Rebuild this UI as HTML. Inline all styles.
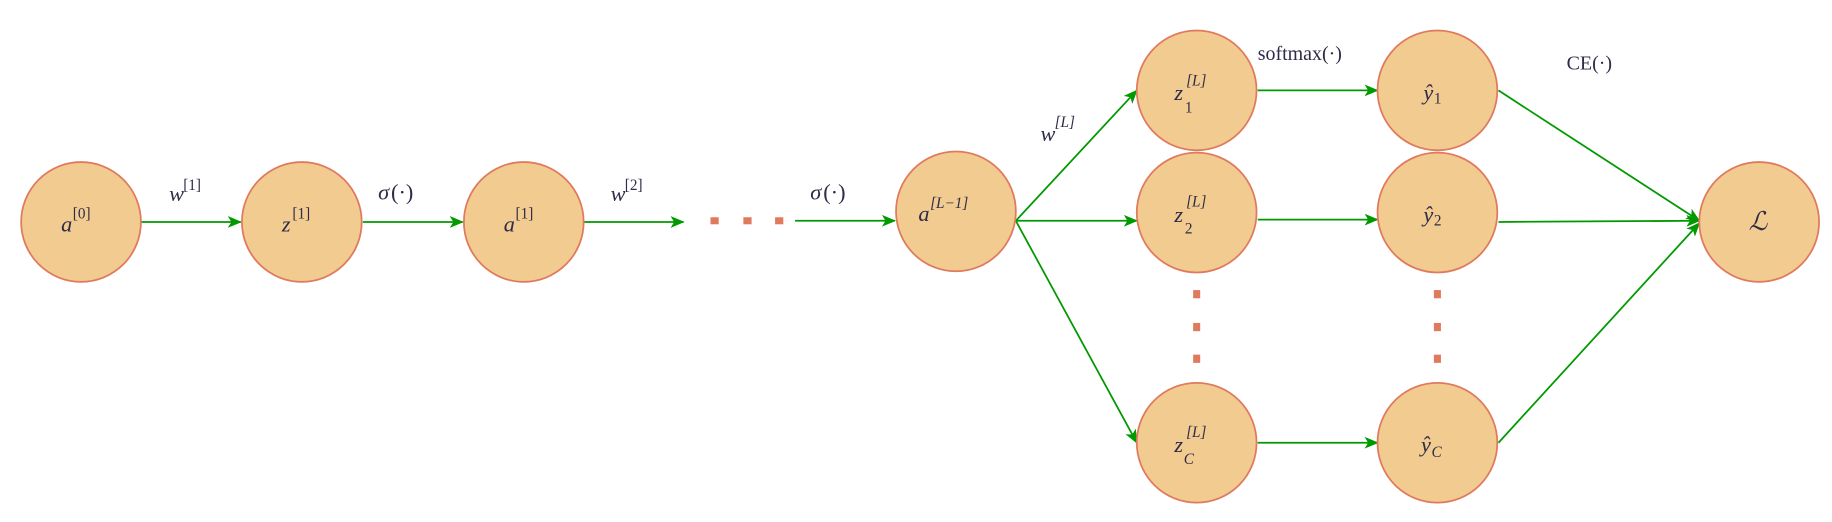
<!DOCTYPE html>
<html><head><meta charset="utf-8"><style>
html,body{margin:0;padding:0;background:#fff;}
svg{display:block}
text{font-family:"Liberation Serif",serif;fill:#2e2c48;font-style:italic}
.n{font-style:normal}
</style></head><body>
<svg width="1832" height="522" viewBox="0 0 1560 444.5" xmlns="http://www.w3.org/2000/svg">
<defs><marker id="ar" markerWidth="12" markerHeight="10" refX="11" refY="5" orient="auto" markerUnits="userSpaceOnUse"><path d="M0,0 L12,5 L0,10 L3,5 z" fill="#009900"/></marker></defs>
<g stroke="#009900" stroke-width="1.5" fill="none" marker-end="url(#ar)">
<line x1="120" y1="189" x2="205" y2="189"/>
<line x1="309" y1="189" x2="394" y2="189"/>
<line x1="497" y1="189" x2="582" y2="189"/>
<line x1="677" y1="188" x2="762" y2="188"/>
<line x1="865" y1="188" x2="968" y2="77"/>
<line x1="865" y1="188" x2="968" y2="188"/>
<line x1="865" y1="188" x2="968" y2="377"/>
<line x1="1071" y1="77" x2="1173" y2="77"/>
<line x1="1071" y1="187" x2="1173" y2="187"/>
<line x1="1071" y1="377" x2="1173" y2="377"/>
<line x1="1276" y1="77" x2="1447" y2="188"/>
<line x1="1276" y1="189" x2="1447" y2="188"/>
<line x1="1276" y1="377" x2="1447" y2="190"/>
</g>
<g fill="#e07a5f">
<rect x="605" y="185" width="7" height="6"/><rect x="633" y="185" width="7" height="6"/><rect x="660" y="185" width="7" height="6"/>
<rect x="1016" y="247" width="6" height="7"/><rect x="1016" y="275" width="6" height="7"/><rect x="1016" y="302" width="6" height="7"/>
<rect x="1221" y="247" width="6" height="7"/><rect x="1221" y="275" width="6" height="7"/><rect x="1221" y="302" width="6" height="7"/>
</g>
<g fill="#f1cb8f" stroke="#e07a5f" stroke-width="1.5">
<circle cx="69" cy="189" r="51"/><circle cx="257" cy="189" r="51"/><circle cx="446" cy="189" r="51"/>
<circle cx="814" cy="180" r="51"/>
<circle cx="1019" cy="77" r="51"/><circle cx="1019" cy="181" r="51"/><circle cx="1019" cy="377" r="51"/>
<circle cx="1224" cy="77" r="51"/><circle cx="1224" cy="181" r="51"/><circle cx="1224" cy="377" r="51"/>
<circle cx="1498" cy="189" r="51"/>
</g>
<g font-size="19">
<text x="52" y="197">a</text><text x="62" y="186" font-size="13" class="n">[0]</text>
<text x="240" y="197">z</text><text x="249" y="186" font-size="13" class="n">[1]</text>
<text x="429" y="197">a</text><text x="439" y="186" font-size="13" class="n">[1]</text>
<text x="782" y="188">a</text><text x="792" y="177" font-size="13">[L−1]</text>
<text x="1000" y="85">z</text><text x="1010" y="73" font-size="13">[L]</text><text x="1009" y="96" font-size="13" class="n">1</text>
<text x="1000" y="189">z</text><text x="1010" y="176" font-size="13">[L]</text><text x="1009" y="199" font-size="13" class="n">2</text>
<text x="1000" y="385">z</text><text x="1010" y="372" font-size="13">[L]</text><text x="1008" y="395" font-size="13">C</text>
<text x="1212" y="85">ŷ</text><text x="1221" y="88" font-size="13" class="n">1</text>
<text x="1212" y="189">ŷ</text><text x="1221" y="192" font-size="13" class="n">2</text>
<text x="1210" y="385">ŷ</text><text x="1219" y="389" font-size="13">C</text>
<text x="1489" y="196" font-size="22">ℒ</text>
<text x="144" y="171">w</text><text x="156" y="162" font-size="13" class="n">[1]</text>
<text x="322" y="170">σ</text><text x="333" y="170" class="n">(·)</text>
<text x="520" y="171">w</text><text x="532" y="162" font-size="13" class="n">[2]</text>
<text x="690" y="170">σ</text><text x="701" y="170" class="n">(·)</text>
<text x="886" y="120">w</text><text x="898" y="108" font-size="13">[L]</text>
<text x="1071" y="51" class="n" font-size="17">softmax(·)</text>
<text x="1334" y="59" class="n" font-size="17">CE(·)</text>
</g>
</svg>
</body></html>
